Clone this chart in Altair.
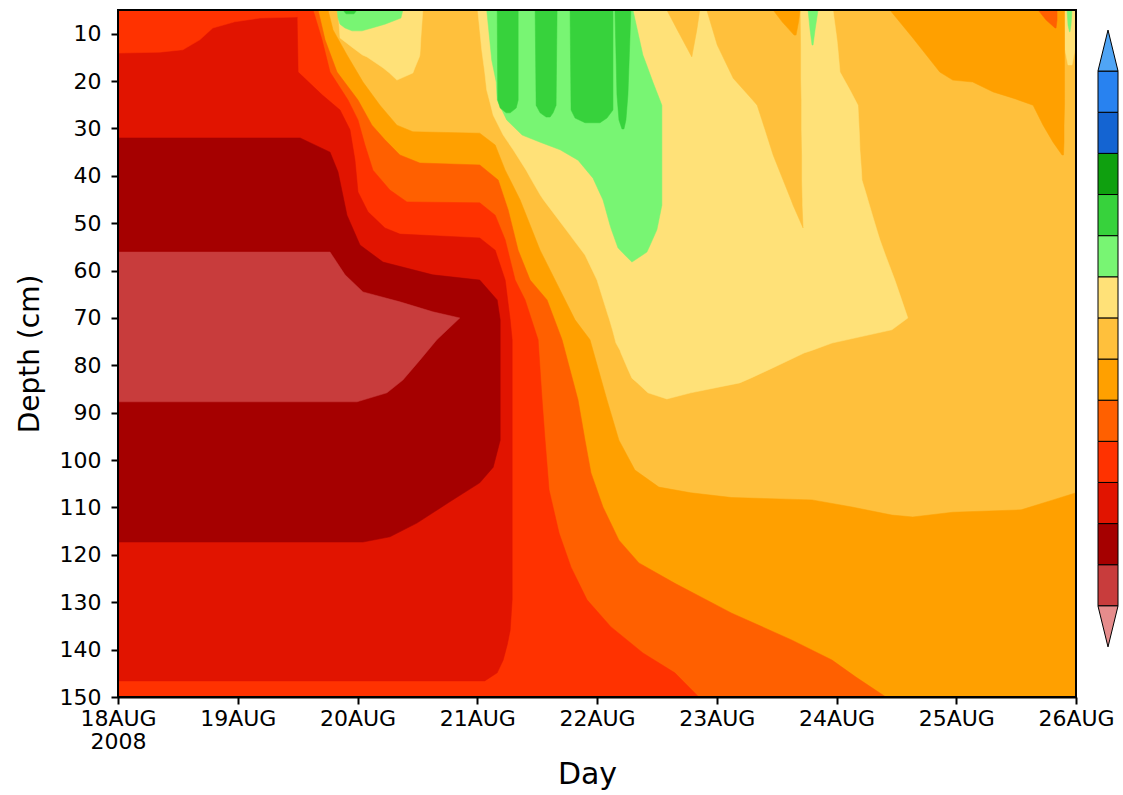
import altair as alt
import pandas as pd

# colour levels, from the lowest (below-range triangle) to the highest (above-range triangle)
level_colors = ["#E68C8C", "#C83C3C", "#A50000", "#E11400", "#FF3200", "#FF6000",
                "#FFA000", "#FFC03C", "#FFE178", "#78F573", "#37D23C", "#0FA00F",
                "#1464D2", "#2882F0", "#50A5F5"]
level_ids = list(range(len(level_colors)))

# axes
day_labels = ["18AUG", "19AUG", "20AUG", "21AUG", "22AUG", "23AUG", "24AUG", "25AUG", "26AUG"]
year_label = "2008"
hour_ticks = [0, 24, 48, 72, 96, 120, 144, 168, 192]
depth_ticks = [10, 20, 30, 40, 50, 60, 70, 80, 90, 100, 110, 120, 130, 140, 150]

# ---- contour regions -----------------------------------------------------
# time in hours after 18AUG 00Z, depth in cm.
# "H" regions: (depth, left hour, right hour) going down;  "V" regions: (hour, top depth) filled to 150 cm
background_level = 7

y_main = [(5.0, 72.1, 143.3), (11.3, 72.7, 144.1), (13.4, 72.9, 144.3), (18.1, 73.5, 144.7), (21.9, 73.9, 146.7),
          (25.1, 74.7, 148.3), (27.2, 75.2, 148.4), (31.4, 77.2, 148.6), (34.5, 79.2, 148.7), (38.8, 81.8, 149.0),
          (40.9, 82.9, 149.1), (44.0, 84.6, 150.0), (45.1, 85.3, 150.3), (48.3, 87.6, 151.2), (52.5, 90.6, 152.4),
          (53.5, 91.3, 152.7), (56.7, 93.6, 153.8), (62.0, 96.0, 155.7), (69.4, 98.2, 158.1), (70.0, 98.4, 158.3),
          (72.5, 99.1, 155.1), (75.3, 99.8, 143.1), (76.8, 100.6, 139.2), (77.4, 100.8, 137.5), (80.6, 102.1, 131.1),
          (82.7, 103.0, 126.8), (83.7, 104.1, 124.6), (85.8, 106.2, 114.8), (87.1, 110.0, 110.0)]
y_blob = [(5.0, 44.1, 61.1), (10.9, 44.5, 60.7), (13.0, 47.1, 60.6), (14.5, 49.0, 60.5), (14.9, 49.9, 60.4),
          (17.2, 53.1, 59.5), (18.3, 54.4, 59.1), (19.8, 55.9, 55.9)]
y_far = [(5.0, 189.7, 192.0), (13.4, 189.8, 191.8), (16.6, 190.4, 191.2)]

g_lobe = [(5.0, 73.9, 103.2), (14.5, 74.8, 105.2), (15.6, 74.9, 105.6), (20.2, 75.8, 107.2), (24.0, 76.0, 108.6),
          (25.1, 76.5, 109.0), (28.2, 77.9, 109.0), (31.4, 81.0, 109.0), (32.9, 84.6, 109.0), (34.5, 88.6, 109.0),
          (36.7, 92.2, 109.0), (40.5, 95.2, 109.0), (45.1, 97.2, 109.0), (46.2, 97.5, 109.0), (50.4, 98.6, 108.2),
          (51.4, 98.9, 108.0), (55.2, 100.2, 106.4), (56.1, 101.0, 106.0), (58.2, 103.0, 103.0)]
g_blob = [(5.0, 43.9, 57.1), (6.7, 44.1, 56.7), (8.0, 44.5, 53.5), (8.8, 45.5, 50.9), (9.4, 46.9, 48.9)]
g_spike = [(5.0, 138.3, 140.3), (9.2, 138.7, 139.7), (12.4, 139.1, 139.3)]
g_far = [(5.0, 190.2, 191.2), (8.2, 190.4, 191.0), (9.6, 190.7, 190.8)]

gg_a = [(5.0, 76.0, 80.2), (24.0, 76.1, 80.2), (25.7, 76.6, 79.8), (26.7, 77.8, 78.6)]
gg_b = [(5.0, 83.6, 88.0), (25.1, 83.8, 87.8), (26.7, 84.6, 87.2), (27.6, 85.8, 86.6)]
gg_c = [(5.0, 90.6, 99.2), (26.1, 90.8, 99.2), (27.8, 91.6, 98.0), (28.8, 93.6, 96.6)]
gg_d = [(5.0, 99.6, 102.8), (22.9, 100.0, 102.2), (28.2, 100.4, 101.8), (30.1, 101.0, 101.4)]
gg_tiny = [(5.0, 45.1, 47.9), (5.8, 45.7, 47.3)]

o7_tooth = [(5.0, 110.0, 116.6), (9.2, 112.1, 116.0), (14.9, 115.0, 115.0)]
o7_wedge = [(5.0, 118.0, 136.7), (12.4, 120.1, 136.8), (19.4, 123.3, 136.8), (24.0, 127.2, 136.9), (25.1, 128.1, 136.9),
            (30.3, 129.7, 136.9), (35.6, 131.3, 137.0), (40.9, 133.3, 137.0), (45.1, 134.9, 137.1), (46.2, 135.3, 137.1),
            (51.0, 137.3, 137.3)]
o6_patch = [(5.0, 131.3, 136.7), (7.5, 133.1, 136.4), (10.3, 135.5, 135.9)]
o6_topright = [(5.0, 154.7, 189.7), (10.9, 159.3, 189.7), (18.1, 164.7, 189.7), (19.8, 167.3, 189.7), (20.2, 171.3, 189.7),
               (22.3, 175.4, 189.7), (23.6, 179.4, 189.7), (25.1, 183.4, 189.7), (29.3, 185.4, 189.6), (32.9, 187.4, 189.6),
               (35.6, 189.2, 189.5)]
o5_patch = [(5.0, 184.4, 188.2), (7.1, 186.0, 188.2), (8.8, 187.8, 188.0)]

v6_top = [(0, 5.0), (42.1, 5.0), (43.1, 9.2), (45.9, 14.5), (49.1, 20.2), (52.5, 25.1), (55.9, 29.3), (59.1, 30.7),
          (72.5, 31.0), (75.6, 33.5), (77.6, 38.8), (80.6, 45.1), (84.6, 55.7), (88.6, 64.1), (91.6, 70.4), (94.6, 74.6),
          (98.0, 87.3), (100.4, 95.8), (103.6, 102.1), (108.4, 105.7), (114.8, 106.9), (123.0, 107.9), (139.1, 108.4),
          (147.1, 109.9), (155.1, 111.6), (159.3, 112.0), (167.3, 111.0), (181.0, 110.5), (187.4, 108.4), (192.0, 106.9)]
v5_top = [(0, 5.0), (40.1, 5.0), (41.5, 11.3), (43.9, 18.1), (48.1, 24.0), (50.9, 29.3), (53.5, 32.4), (56.5, 35.6),
          (60.5, 37.3), (72.5, 37.7), (76.2, 40.9), (78.2, 47.2), (80.2, 55.7), (82.6, 62.0), (86.0, 66.2), (89.0, 74.6),
          (92.2, 87.3), (93.6, 95.8), (94.8, 102.7), (97.2, 109.9), (100.4, 116.9), (104.4, 121.7), (111.6, 126.0),
          (123.0, 132.3), (135.1, 138.0), (143.1, 142.2), (147.9, 145.8), (153.9, 150.0)]
v4_top = [(0, 5.0), (39.1, 5.0), (40.9, 11.3), (42.5, 18.1), (46.1, 24.0), (48.1, 28.2), (49.5, 33.5), (51.1, 38.8),
          (54.5, 43.0), (57.9, 45.5), (72.5, 45.7), (75.6, 48.3), (77.6, 53.5), (79.6, 62.0), (81.6, 66.2), (84.2, 74.6),
          (85.0, 87.3), (85.6, 95.8), (86.4, 106.3), (88.4, 115.4), (90.8, 122.6), (94.0, 129.5), (98.8, 135.2),
          (105.2, 140.7), (111.6, 144.9), (116.4, 150.0)]

h3 = [(6.5, 0, 35.9), (18.1, 0, 36.1), (22.9, 0, 40.9), (26.1, 0, 44.5), (30.3, 0, 46.5), (36.7, 0, 47.5), (43.4, 0, 48.1),
      (47.6, 0, 50.1), (51.0, 0, 53.5), (52.3, 0, 56.5), (53.1, 0, 72.5), (55.7, 0, 75.6), (62.0, 0, 77.6), (70.4, 0, 78.6),
      (74.6, 0, 79.0), (129.5, 0, 79.0), (135.9, 0, 78.6), (139.0, 0, 78.0), (142.2, 0, 77.2), (144.9, 0, 76.0),
      (146.6, 0, 73.5)]
h4_topleft = [(5.0, 0, 35.9), (6.5, 0, 35.9), (6.7, 0, 28.5), (7.5, 0, 23.4), (8.8, 0, 19.0), (11.3, 0, 16.4),
              (13.4, 0, 13.0), (13.9, 0, 8.4), (14.1, 0, 0.0)]
h2 = [(32.0, 0, 36.5), (35.0, 0, 42.5), (39.2, 0, 44.1), (48.3, 0, 45.9), (54.6, 0, 48.5), (58.2, 0, 53.1), (60.9, 0, 63.1),
      (62.0, 0, 72.5), (66.2, 0, 76.0), (70.4, 0, 76.6), (95.8, 0, 76.6), (101.5, 0, 75.2), (104.8, 0, 72.5),
      (108.8, 0, 66.5), (113.3, 0, 59.9), (116.2, 0, 54.5), (117.3, 0, 49.1)]
h1 = [(56.1, 0, 42.5), (60.9, 0, 45.5), (64.5, 0, 49.1), (66.6, 0, 56.5), (68.7, 0, 63.1), (70.0, 0, 68.5),
      (74.6, 0, 63.9), (78.9, 0, 60.5), (83.1, 0, 57.1), (85.8, 0, 53.9), (87.7, 0, 47.9)]

# painting order: outer regions first, inner regions on top
regions = [
    ("H", 8, y_main), ("H", 8, y_blob), ("H", 8, y_far),
    ("H", 9, g_lobe), ("H", 9, g_blob), ("H", 9, g_spike), ("H", 9, g_far),
    ("H", 10, gg_a), ("H", 10, gg_b), ("H", 10, gg_c), ("H", 10, gg_d), ("H", 10, gg_tiny),
    ("H", 7, o7_tooth), ("H", 7, o7_wedge),
    ("H", 6, o6_patch), ("H", 6, o6_topright), ("H", 5, o5_patch),
    ("V", 6, v6_top), ("V", 5, v5_top), ("V", 4, v4_top),
    ("H", 3, h3), ("H", 4, h4_topleft), ("H", 2, h2), ("H", 1, h1),
]

# ---- scales / axes ---------------------------------------------------------
xs = alt.Scale(domain=[0, 192], nice=False, zero=False)
ys = alt.Scale(domain=[5, 150], reverse=True, nice=False, zero=False)

label_items = ["['%s','%s']" % (day_labels[0], year_label)] + ["'%s'" % s for s in day_labels[1:]]
label_expr = "[" + ",".join(label_items) + "][round(datum.value/24)]"

x_axis = alt.Axis(values=hour_ticks, labelExpr=label_expr, title="Day",
                  labelLineHeight=23, labelPadding=4, labelFlush=False,
                  titleX=469, titleY=86, titleBaseline="alphabetic",
                  titleAnchor="start", titleAlign="center", titleFontSize=30)
y_axis = alt.Axis(values=depth_ticks, title="Depth (cm)", labelPadding=10,
                  titleX=-80, titleY=343.5, titleAngle=270, titleBaseline="alphabetic",
                  titleAlign="center", titleFontSize=28)

bg = alt.Chart(pd.DataFrame({"t0": [0], "t1": [192], "d0": [5], "d1": [150]})).mark_rect(
    color=level_colors[background_level]).encode(
    x=alt.X("t0:Q", scale=xs, axis=x_axis), x2="t1:Q",
    y=alt.Y("d0:Q", scale=ys, axis=y_axis), y2="d1:Q",
)

layers = [bg]
for kind, lvl, pts in regions:
    col = level_colors[lvl]
    if kind == "H":
        df = pd.DataFrame([{"d": d, "xl": a, "xr": b} for (d, a, b) in pts])
        lay = alt.Chart(df).mark_area(orient="horizontal", color=col, stroke=col, strokeWidth=0.5,
                                      opacity=1, interpolate="linear").encode(
            y=alt.Y("d:Q", scale=ys, axis=y_axis),
            x=alt.X("xl:Q", scale=xs, axis=x_axis, stack=None), x2="xr:Q",
        )
    else:
        df = pd.DataFrame([{"h": h, "dt": d, "db": 150.0} for (h, d) in pts])
        lay = alt.Chart(df).mark_area(orient="vertical", color=col, stroke=col, strokeWidth=0.5,
                                      opacity=1, interpolate="linear").encode(
            x=alt.X("h:Q", scale=xs, axis=x_axis),
            y=alt.Y("dt:Q", scale=ys, axis=y_axis, stack=None), y2="db:Q",
        )
    layers.append(lay)

frame = alt.Chart(pd.DataFrame({"a": [0]})).mark_rect(fill=None, stroke="black", strokeWidth=2).encode(
    x=alt.value(0), x2=alt.value(958), y=alt.value(0), y2=alt.value(687)
)
layers.append(frame)
field = alt.layer(*layers)

# ---- colour bar: 13 boxes plus two end triangles ----------------------------
cb_scale = alt.Scale(domain=[-1.216, 15.486], nice=False, zero=False)
cb_color = alt.Scale(domain=level_ids, range=level_colors)
cb_df = pd.DataFrame({"lo": level_ids[1:14], "hi": [k + 1 for k in level_ids[1:14]], "lvl": level_ids[1:14]})
cbar = alt.Chart(cb_df).mark_rect(stroke="black", strokeWidth=1).encode(
    x=alt.value(980), x2=alt.value(1000),
    y=alt.Y("lo:Q", scale=cb_scale, axis=None), y2="hi:Q",
    color=alt.Color("lvl:N", scale=cb_color, legend=None),
)
tri_up = alt.Chart(pd.DataFrame({"c": [14.5], "lvl": [14]})).mark_point(
    shape="M -0.49 1 L 0 -1 L 0.49 1 Z", filled=True, size=1681, opacity=1,
    stroke="black", strokeWidth=1).encode(
    x=alt.value(990), y=alt.Y("c:Q", scale=cb_scale, axis=None),
    color=alt.Color("lvl:N", scale=cb_color, legend=None),
)
tri_dn = alt.Chart(pd.DataFrame({"c": [0.5], "lvl": [0]})).mark_point(
    shape="M -0.49 -1 L 0 1 L 0.49 -1 Z", filled=True, size=1681, opacity=1,
    stroke="black", strokeWidth=1).encode(
    x=alt.value(990), y=alt.Y("c:Q", scale=cb_scale, axis=None),
    color=alt.Color("lvl:N", scale=cb_color, legend=None),
)
colorbar = alt.layer(cbar, tri_up, tri_dn)

chart = alt.layer(field, colorbar).resolve_scale(
    y="independent"
).properties(
    width=958, height=687,
    autosize=alt.AutoSizeParams(type="none"),
    padding={"left": 118, "top": 10, "right": 47, "bottom": 98},
    background="white",
).configure_view(stroke=None).configure_axis(
    grid=False, domainColor="black", domainWidth=2, tickColor="black", tickWidth=2, tickSize=7,
    labelFont="DejaVu Sans", labelFontSize=22, labelColor="black",
    titleFont="DejaVu Sans", titleFontWeight="normal", titleColor="black",
)

chart.save("out.html", embed_options={"renderer": "svg", "actions": False})
